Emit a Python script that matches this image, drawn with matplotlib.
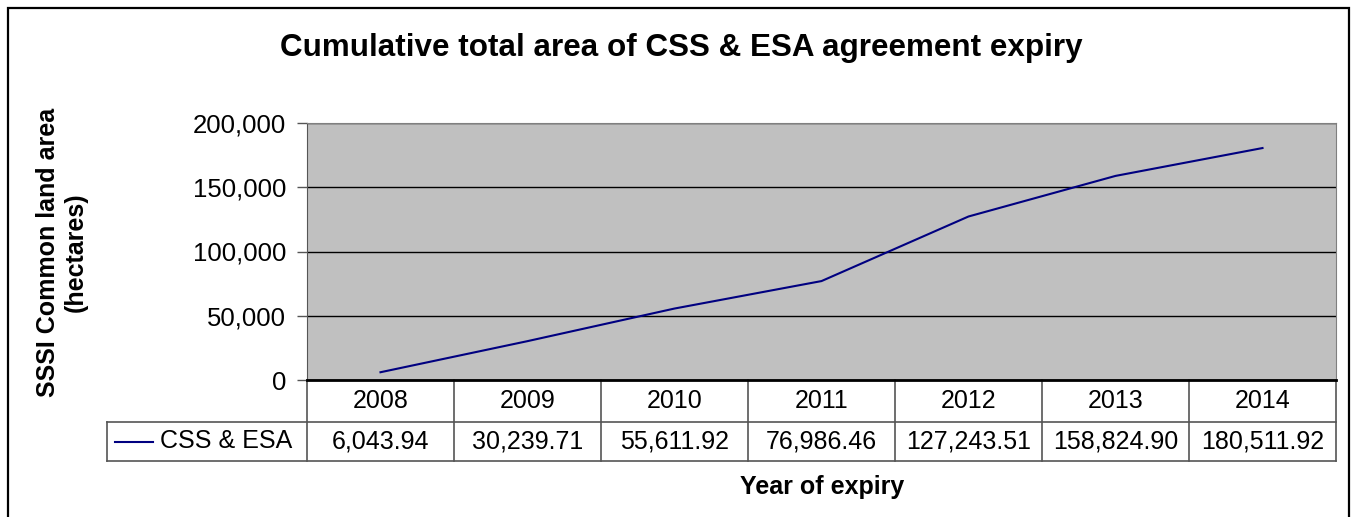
import numpy as np
import matplotlib.pyplot as plt
from matplotlib.patches import Rectangle
from matplotlib.lines import Line2D
from matplotlib.ticker import FuncFormatter
import matplotlib.transforms as mtransforms

plt.rcParams['font.family'] = ['Liberation Sans', 'DejaVu Sans']

years = ['2008', '2009', '2010', '2011', '2012', '2013', '2014']
area = [6043.94, 30239.71, 55611.92, 76986.46, 127243.51, 158824.90, 180511.92]
series_name = 'CSS & ESA'

W, H = 1353, 517
fig = plt.figure(figsize=(W / 100, H / 100), dpi=100)

# outer chart frame
fig.add_artist(Rectangle((8 / W, -0.02), (1349 - 8) / W, 1 - 8 / H + 0.02,
                         transform=fig.transFigure, fill=False, ec='black', lw=1.6))

ax = fig.add_axes([307 / W, 1 - 380 / H, (1336 - 307) / W, (380 - 123) / H])
ax.set_facecolor('#C0C0C0')
x = np.arange(len(years))
ax.plot(x, area, color='#000080', lw=1.5, zorder=3)
ax.set_xlim(-0.5, len(years) - 0.5)
ax.set_ylim(0, 200000)
ax.set_yticks(np.arange(0, 200001, 50000))
ax.yaxis.set_major_formatter(FuncFormatter(lambda v, p: f'{v:,.0f}'))
ax.grid(axis='y', color='black', lw=1)
ax.set_axisbelow(True)
ax.set_xticks([])
ax.tick_params(axis='y', labelsize=18.5, length=7, width=1, color='#555555', pad=8)
for s in ['top', 'right']:
    ax.spines[s].set_color('#808080')
ax.spines['left'].set_color('#555555')
ax.spines['bottom'].set_color('black')
ax.spines['bottom'].set_linewidth(2)

# data table below the axis
tr = mtransforms.blended_transform_factory(ax.transData, ax.transAxes)
ah = 380 - 123
r1 = -(422 - 380) / ah
r2 = -(461 - 380) / ah
left = -0.5 - (307 - 107) / ((1336 - 307) / len(years))
lc = '#555555'
def hl(x0, x1, y, c=lc, lw=1.2):
    ax.add_line(Line2D([x0, x1], [y, y], transform=tr, color=c, lw=lw, clip_on=False))
def vl(xx, y0, y1, c=lc, lw=1.2):
    ax.add_line(Line2D([xx, xx], [y0, y1], transform=tr, color=c, lw=lw, clip_on=False))

hl(left, len(years) - 0.5, r1)
hl(left, len(years) - 0.5, r2)
vl(left, r1, r2)
for i in range(len(years) + 1):
    vl(i - 0.5, 0, r2)

for i, (yr, v) in enumerate(zip(years, area)):
    ax.text(i, r1 / 2, yr, transform=tr, ha='center', va='center', fontsize=18)
    ax.text(i, (r1 + r2) / 2, f'{v:,.2f}', transform=tr, ha='center', va='center', fontsize=18)

kx0 = left + 8 / 147
kx1 = left + 46 / 147
ax.add_line(Line2D([kx0, kx1], [(r1 + r2) / 2] * 2, transform=tr, color='#000080',
                   lw=1.5, clip_on=False))
ax.text(left + 53 / 147, (r1 + r2) / 2, series_name, transform=tr, ha='left', va='center',
        fontsize=18)

fig.text(681 / W, 1 - 48 / H, 'Cumulative total area of CSS & ESA agreement expiry',
         ha='center', va='center', fontsize=22.6, fontweight='bold')
fig.text(62 / W, 1 - 252 / H, 'SSSI Common land area\n(hectares)', rotation=90,
         ha='center', va='center', fontsize=18, fontweight='bold', linespacing=1.2)
fig.text(822 / W, 1 - 487 / H, 'Year of expiry', ha='center', va='center',
         fontsize=18, fontweight='bold')

fig.savefig('out.png', dpi=100)
